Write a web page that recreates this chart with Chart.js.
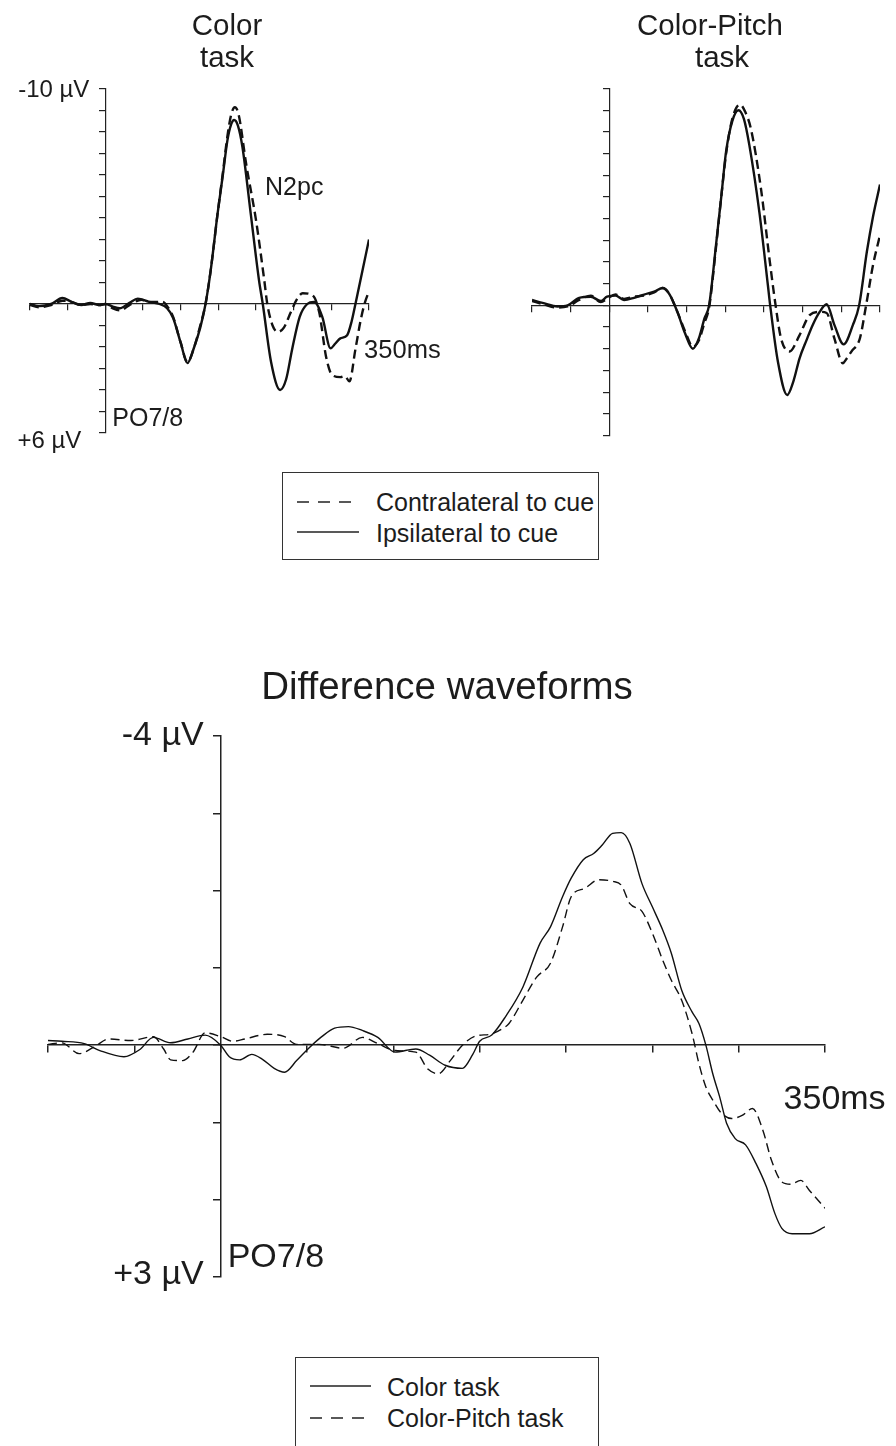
<!DOCTYPE html>
<html>
<head>
<meta charset="utf-8">
<script src="https://cdn.jsdelivr.net/npm/chart.js@4.4.1/dist/chart.umd.min.js"></script>
<style>
  html, body { margin: 0; padding: 0; background: #fff; }
  body { width: 896px; height: 1446px; position: relative; overflow: hidden;
         font-family: "Liberation Sans", Arial, sans-serif; color: #1c1c1c; }
  canvas { position: absolute; }
  .txt { position: absolute; white-space: nowrap; transform: translateX(-50%); }
  .title { font-size: 29.5px; line-height: 32px; }
  .bigtitle { font-size: 38.5px; line-height: 42px; }
  .legend { position: absolute; border: 1px solid #333; box-sizing: border-box; }
  .legend span { position: absolute; font-size: 25px; line-height: 28px; white-space: nowrap; }
  .legend svg { position: absolute; }
</style>
</head>
<body>

<canvas id="colorChart" width="448" height="460" style="left:0; top:0;"></canvas>
<canvas id="pitchChart" width="448" height="460" style="left:448px; top:0;"></canvas>
<canvas id="diffChart" width="896" height="720" style="left:0; top:600px;"></canvas>

<div class="txt title" style="left:227px; top:9px;">Color</div>
<div class="txt title" style="left:227px; top:41px;">task</div>
<div class="txt title" style="left:710px; top:9px;">Color-Pitch</div>
<div class="txt title" style="left:722px; top:41px;">task</div>
<div class="txt bigtitle" style="left:447px; top:665px;">Difference waveforms</div>

<div class="legend" style="left:282px; top:472px; width:317px; height:88px;">
  <svg style="left:14px; top:23px;" width="64" height="12"><line x1="0" y1="6" x2="56" y2="6" stroke="#222" stroke-width="1.6" stroke-dasharray="12 9"/></svg>
  <span style="left:93px; top:15px;">Contralateral to cue</span>
  <svg style="left:14px; top:53px;" width="64" height="12"><line x1="0" y1="6" x2="62" y2="6" stroke="#222" stroke-width="1.6"/></svg>
  <span style="left:93px; top:46px;">Ipsilateral to cue</span>
</div>

<div class="legend" style="left:295px; top:1357px; width:304px; height:100px;">
  <svg style="left:14px; top:22px;" width="64" height="12"><line x1="0" y1="6" x2="61" y2="6" stroke="#222" stroke-width="1.4"/></svg>
  <span style="left:91px; top:15px;">Color task</span>
  <svg style="left:14px; top:54px;" width="64" height="12"><line x1="0" y1="6" x2="55" y2="6" stroke="#222" stroke-width="1.4" stroke-dasharray="12 9"/></svg>
  <span style="left:91px; top:46px;">Color-Pitch task</span>
</div>

<script>
// Color task, PO7/8 (ms, µV; negative up)
const colorIpsiMs = [-100, -88, -72, -57, -45, -32, -20, -8, 0, 10, 19, 32, 43, 58, 72, 82, 90, 100, 109, 118, 126, 133, 140, 149, 156, 162, 167, 171, 176, 182, 193, 204, 209, 220, 232, 240, 248, 258, 268, 277, 288, 299, 305, 312, 321, 327, 332, 341, 350];
const colorIpsiUv = [0, 0.1, 0, -0.28, -0.1, 0.05, -0.05, 0.05, 0, 0.12, 0.2, -0.05, -0.25, -0.1, 0, 0.2, 0.65, 1.8, 2.75, 2.0, 1.1, 0, -1.6, -4.2, -6.0, -7.6, -8.35, -8.56, -8.3, -7.3, -4.2, -1.1, 0, 2.7, 4.0, 3.5, 2.1, 0.6, 0, -0.1, 0.6, 2.06, 1.85, 1.6, 1.45, 0.8, 0, -1.5, -3.0];
const colorContraMs = [-100, -88, -72, -57, -45, -32, -20, -8, 0, 10, 20, 32, 48, 58, 68, 76, 82, 90, 100, 109, 118, 126, 133, 140, 149, 156, 162, 167, 172, 177, 187, 200, 211, 215, 222, 229, 237, 246, 254, 262, 275, 284, 293, 301, 312, 318, 324, 332, 339, 344, 350];
const colorContraUv = [0.05, 0.15, 0.05, -0.15, -0.1, 0.05, 0, 0.05, 0, 0.2, 0.3, 0.05, -0.2, -0.1, -0.1, -0.1, 0.1, 0.6, 1.8, 2.7, 2.0, 1.0, 0, -1.6, -4.2, -6.1, -7.8, -8.8, -9.15, -8.8, -6.5, -3.9, -1.1, 0, 1.0, 1.3, 1.1, 0.4, -0.2, -0.5, -0.4, 0.4, 2.45, 3.3, 3.4, 3.35, 3.6, 2.1, 0.74, 0, -0.6];

// Color-Pitch task
const pitchIpsiMs = [-100, -85, -67, -54, -39, -24, -11, -3, 8, 19, 32, 45, 58, 69, 78, 88, 98, 108, 116, 123, 129, 138, 145, 151, 159, 167, 174, 181, 194, 205, 208, 218, 230, 238, 246, 255, 263, 272, 281, 291, 303, 315, 323, 333, 341, 350];
const pitchIpsiUv = [-0.25, -0.1, 0.05, 0, -0.35, -0.4, -0.2, -0.4, -0.45, -0.25, -0.35, -0.5, -0.63, -0.8, -0.5, 0.3, 1.3, 2.0, 1.5, 0.6, 0, -2.8, -5.1, -7.1, -8.5, -9.0, -8.6, -7.4, -4.3, -0.94, 0, 2.6, 4.13, 3.5, 2.44, 1.6, 0.9, 0.3, -0.05, 0.9, 1.8, 0.9, 0, -2.47, -4.1, -5.57];
const pitchContraMs = [-100, -85, -67, -54, -39, -24, -11, -3, 8, 19, 32, 45, 58, 69, 78, 88, 98, 108, 116, 123, 129, 138, 145, 151, 159, 169, 176, 183, 196, 207, 215, 222, 233, 246, 259, 272, 281, 291, 302, 306, 313, 324, 332, 341, 350];
const pitchContraUv = [-0.2, -0.05, 0.1, 0.05, -0.25, -0.45, -0.15, -0.3, -0.5, -0.3, -0.4, -0.45, -0.6, -0.8, -0.5, 0.3, 1.2, 1.9, 1.6, 0.8, 0.1, -2.7, -5.1, -7.0, -8.6, -9.26, -8.9, -8.15, -5.4, -2.17, 0, 1.52, 2.13, 1.37, 0.45, 0.3, 0.35, 1.52, 2.67, 2.5, 2.13, 1.52, 0, -1.86, -3.24];

// Difference waveforms (contra minus ipsi)
const diffColorMs = [-100, -92, -79, -70, -56, -47, -39, -29, -19, -9, 0, 5, 11, 18, 24, 31, 37, 44, 51, 58, 66, 74, 82, 91, 101, 113, 121, 130, 140, 146, 150, 157, 165, 175, 185, 191, 198, 203, 210, 216, 221, 227, 232, 237, 244, 250, 256, 261, 267, 273, 277, 281, 285, 289, 293, 298, 304, 310, 316, 321, 325, 331, 341, 350];
const diffColorUv = [-0.06, -0.05, -0.02, 0.07, 0.15, 0.06, -0.1, -0.03, -0.08, -0.13, 0, 0.15, 0.19, 0.12, 0.18, 0.3, 0.35, 0.2, 0.04, -0.1, -0.22, -0.24, -0.19, -0.1, 0.09, 0.05, 0.13, 0.26, 0.3, 0.12, -0.05, -0.13, -0.37, -0.75, -1.32, -1.53, -1.92, -2.16, -2.4, -2.48, -2.59, -2.74, -2.75, -2.61, -2.09, -1.79, -1.49, -1.19, -0.71, -0.43, -0.28, 0, 0.37, 0.67, 1.01, 1.21, 1.29, 1.53, 1.83, 2.18, 2.37, 2.44, 2.44, 2.35];
const diffPitchMs = [-100, -92, -82, -73, -65, -52, -39, -33, -29, -22, -16, -9, 0, 7, 14, 27, 37, 44, 57, 71, 82, 91, 101, 113, 120, 126, 133, 140, 148, 156, 163, 167, 175, 183, 191, 198, 203, 211, 219, 227, 232, 237, 244, 250, 256, 261, 267, 273, 277, 281, 285, 290, 296, 302, 308, 314, 319, 325, 330, 336, 341, 350];
const diffPitchUv = [-0.01, -0.03, 0.11, 0.02, -0.08, -0.06, -0.11, 0.05, 0.19, 0.2, 0.09, -0.16, -0.11, -0.05, -0.08, -0.14, -0.11, -0.01, -0.01, 0.04, -0.1, -0.02, 0.07, 0.09, 0.31, 0.37, 0.2, 0, -0.12, -0.14, -0.21, -0.28, -0.58, -0.88, -1.06, -1.53, -1.92, -2.03, -2.14, -2.12, -2.07, -1.83, -1.73, -1.45, -1.1, -0.84, -0.58, -0.15, 0.24, 0.54, 0.71, 0.88, 0.95, 0.91, 0.82, 1.1, 1.49, 1.77, 1.8, 1.75, 1.88, 2.11];

const FONT = '"Liberation Sans", Arial, sans-serif';
const INK = '#1c1c1c';

// writes small labels at data coordinates (axis ends, component names)
const textLabels = {
  id: 'textLabels',
  afterDraw(chart, args, opts) {
    const { ctx, scales: { x, y } } = chart;
    ctx.save();
    ctx.fillStyle = INK;
    ctx.textBaseline = 'middle';
    (opts.items || []).forEach(it => {
      ctx.font = it.size + 'px ' + FONT;
      ctx.textAlign = it.align || 'left';
      ctx.fillText(it.text, x.getPixelForValue(it.x) + (it.dx || 0), y.getPixelForValue(it.y) + (it.dy || 0));
    });
    ctx.restore();
  }
};

function erpChart(id, cfg) {
  return new Chart(document.getElementById(id), {
    type: 'line',
    data: {
      datasets: cfg.series.map(s => ({
        data: s.ms.map((t, i) => ({ x: t, y: s.uv[i] })),
        borderColor: '#111',
        borderWidth: cfg.lineWidth,
        borderDash: s.dashed ? cfg.dash : [],
        pointRadius: 0,
        cubicInterpolationMode: 'monotone',
        fill: false
      }))
    },
    options: {
      responsive: false,
      animation: false,
      events: [],
      layout: { padding: cfg.padding },
      plugins: {
        legend: { display: false },
        tooltip: { enabled: false },
        textLabels: { items: cfg.labels }
      },
      scales: {
        x: {
          type: 'linear', min: -100, max: 350, position: { y: 0 },
          ticks: { display: false, stepSize: 50 },
          grid: { drawOnChartArea: false, drawTicks: true, tickLength: cfg.tick, color: '#222', lineWidth: cfg.axisWidth },
          border: { display: true, color: '#222', width: cfg.axisWidth },
          afterFit: s => { s.height = 0; }
        },
        y: {
          type: 'linear', min: cfg.yMin, max: cfg.yMax, reverse: true, position: { x: 0 },
          ticks: { display: false, stepSize: 1 },
          grid: { drawOnChartArea: false, drawTicks: true, tickLength: cfg.tick, color: '#222', lineWidth: cfg.axisWidth },
          border: { display: true, color: '#222', width: cfg.axisWidth },
          afterFit: s => { s.width = 0; }
        }
      }
    },
    plugins: [textLabels]
  });
}

erpChart('colorChart', {
  yMin: -10, yMax: 6, tick: 6, lineWidth: 2.4, axisWidth: 1.2, dash: [9, 5],
  padding: { left: 30, right: 79, top: 89, bottom: 27 },
  series: [
    { ms: colorContraMs, uv: colorContraUv, dashed: true },
    { ms: colorIpsiMs, uv: colorIpsiUv }
  ],
  labels: [
    { text: '-10 µV', x: 0, y: -10, dx: -16, dy: 1, size: 24, align: 'right' },
    { text: '+6 µV', x: 0, y: 6, dx: -24, dy: 8, size: 24, align: 'right' },
    { text: 'PO7/8', x: 0, y: 6, dx: 7, dy: -14, size: 25 },
    { text: 'N2pc', x: 212, y: -5.4, size: 25 },
    { text: '350ms', x: 343.5, y: 2.2, size: 25.5 }
  ]
});

erpChart('pitchChart', {
  yMin: -10, yMax: 6, tick: 6, lineWidth: 2.4, axisWidth: 1.2, dash: [9, 5],
  padding: { left: 84, right: 16, top: 88.5, bottom: 24.5 },
  series: [
    { ms: pitchContraMs, uv: pitchContraUv, dashed: true },
    { ms: pitchIpsiMs, uv: pitchIpsiUv }
  ],
  labels: []
});

erpChart('diffChart', {
  yMin: -4, yMax: 3, tick: 7, lineWidth: 1.4, axisWidth: 1.5, dash: [9, 5],
  padding: { left: 48, right: 71, top: 136, bottom: 43 },
  series: [
    { ms: diffColorMs, uv: diffColorUv },
    { ms: diffPitchMs, uv: diffPitchUv, dashed: true }
  ],
  labels: [
    { text: '-4 µV', x: 0, y: -4, dx: -17, dy: 0, size: 34, align: 'right' },
    { text: '+3 µV', x: 0, y: 3, dx: -17, dy: -2, size: 34, align: 'right' },
    { text: 'PO7/8', x: 0, y: 3, dx: 7, dy: -19, size: 34 },
    { text: '350ms', x: 326, y: 0.7, size: 34 }
  ]
});
</script>
</body>
</html>
